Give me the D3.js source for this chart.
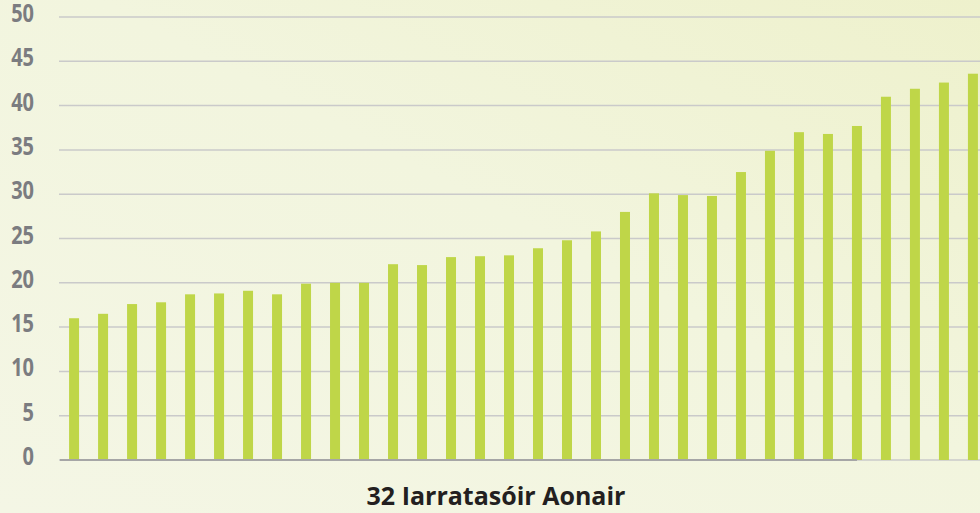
<!DOCTYPE html>
<html>
<head>
<meta charset="utf-8">
<script src="https://d3js.org/d3.v7.min.js"></script>
<style>
  html, body { margin: 0; padding: 0; overflow: hidden; }
  svg { display: block; }
</style>
</head>
<body>
<svg id="chart" width="980" height="513"></svg>
<script>
// 32 bars, values
const applicants = d3.range(1, 33).map(String);
const values = [16.0, 16.5, 17.6, 17.8, 18.7, 18.8, 19.1, 18.7, 19.9, 20.0, 20.0,
  22.1, 22.0, 22.9, 23.0, 23.1, 23.9, 24.8, 25.8, 28.0, 30.1, 29.9, 29.8,
  32.5, 34.9, 37.0, 36.8, 37.7, 41.0, 41.9, 42.6, 43.6];
const yTicks = [0, 5, 10, 15, 20, 25, 30, 35, 40, 45, 50];
const xTitle = "32 Iarratasóir Aonair";

const svg = d3.select("#chart");
const W = 980, H = 513;

// background gradient
const defs = svg.append("defs");
const grad = defs.append("linearGradient").attr("id", "bg")
  .attr("x1", "0%").attr("y1", "100%").attr("x2", "100%").attr("y2", "0%");
grad.append("stop").attr("offset", "0%").attr("stop-color", "#f4f6e5");
grad.append("stop").attr("offset", "55%").attr("stop-color", "#f2f5de");
grad.append("stop").attr("offset", "100%").attr("stop-color", "#eef1cc");
svg.append("rect").attr("width", W).attr("height", H).attr("fill", "url(#bg)");

const x = d3.scaleBand().domain(applicants).range([59.5, 59.5 + 32 * 29]).paddingInner(0.655).paddingOuter(0.33);
const y = d3.scaleLinear().domain([0, 50]).range([460, 17]);

// grid lines
svg.append("g").selectAll("line").data(yTicks).join("line")
  .attr("x1", 59).attr("x2", W)
  .attr("y1", d => y(d)).attr("y2", d => y(d))
  .attr("stroke", "#cacaca").attr("stroke-width", 1.5);

// y labels (condensed look by squeezing horizontally)
svg.append("g").selectAll("text").data(yTicks).join("text")
  .attr("transform", d => `translate(34,${y(d) + 5}) scale(0.8,1)`)
  .attr("text-anchor", "end")
  .attr("font-family", "'Open Sans', sans-serif")
  .attr("font-weight", "bold")
  .attr("font-size", 25)
  .attr("fill", "#7b7c80")
  .text(d => d);

// bars
svg.append("g").selectAll("rect").data(values).join("rect")
  .attr("x", (d, i) => x(applicants[i]))
  .attr("width", x.bandwidth())
  .attr("y", d => y(d))
  .attr("height", d => y(0) - y(d))
  .attr("fill", "#bfd648");

// darker baseline section
svg.append("line")
  .attr("x1", 60).attr("x2", 857)
  .attr("y1", y(0)).attr("y2", y(0))
  .attr("stroke", "#a6a6a6").attr("stroke-width", 2);

// axis title
svg.append("text")
  .attr("x", 496).attr("y", 505)
  .attr("text-anchor", "middle")
  .attr("font-family", "'Open Sans', sans-serif")
  .attr("font-weight", "bold")
  .attr("font-size", 25)
  .attr("fill", "#231f20")
  .text(xTitle);
</script>
</body>
</html>
